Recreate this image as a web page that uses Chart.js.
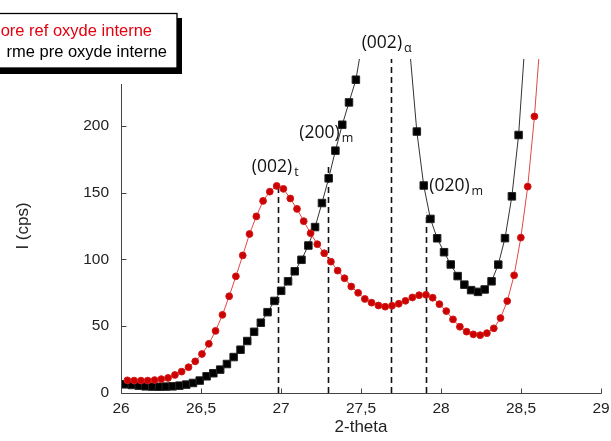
<!DOCTYPE html>
<html>
<head>
<meta charset="utf-8">
<script src="https://cdn.jsdelivr.net/npm/chart.js@4.4.1/dist/chart.umd.min.js"></script>
<style>
  html, body { margin: 0; padding: 0; background: #ffffff; }
  #wrap { width: 611px; height: 441px; }
</style>
</head>
<body>
<div id="wrap"><canvas id="xrd-chart" width="611" height="441"></canvas></div>
<script>
// reference pattern (red circles) : 2-theta / counts
const refTheta = [
  26.040, 26.082, 26.125, 26.167, 26.210, 26.252, 26.294, 26.337, 26.379, 26.422,
  26.464, 26.506, 26.549, 26.591, 26.634, 26.676, 26.718, 26.761, 26.803, 26.846,
  26.888, 26.930, 26.973, 27.015, 27.058, 27.100, 27.142, 27.185, 27.227, 27.270,
  27.312, 27.354, 27.397, 27.439, 27.482, 27.524, 27.566, 27.609, 27.651, 27.694,
  27.736, 27.778, 27.821, 27.863, 27.906, 27.948, 27.990, 28.033, 28.075, 28.118,
  28.160, 28.202, 28.245, 28.287, 28.330, 28.372, 28.414, 28.457, 28.499, 28.542,
  28.584, 28.626
];
const refCounts = [
  9.5, 9.3, 9.3, 9.3, 9.7, 10.4, 11.3, 13.5, 16.0, 19.3,
  23.7, 29.2, 36.8, 46.5, 58.5, 72.4, 87.3, 103.0, 119.0, 132.2,
  143.8, 150.7, 155.0, 152.8, 145.6, 137.8, 128.6, 119.6, 111.4, 104.6,
  98.3, 91.6, 85.9, 79.7, 75.0, 70.4, 67.6, 65.5, 64.6, 65.3,
  66.8, 69.0, 71.5, 73.2, 73.5, 71.3, 66.5, 61.3, 55.1, 49.6,
  45.9, 43.9, 43.3, 44.8, 48.4, 56.1, 68.8, 88.1, 116.3, 154.5,
  207.0, 274.0
];

// pre-oxidised pattern (black squares)
const preTheta = [
  26.026, 26.068, 26.111, 26.153, 26.196, 26.238, 26.280, 26.323, 26.365, 26.408,
  26.450, 26.492, 26.535, 26.577, 26.620, 26.662, 26.704, 26.747, 26.789, 26.832,
  26.874, 26.916, 26.959, 27.001, 27.044, 27.086, 27.128, 27.171, 27.213, 27.256,
  27.298, 27.340, 27.383, 27.425, 27.468, 27.510, 27.552, 27.595, 27.637, 27.680,
  27.722, 27.764, 27.807, 27.849, 27.892, 27.934, 27.976, 28.019, 28.061, 28.104,
  28.146, 28.188, 28.231, 28.273, 28.316, 28.358, 28.400, 28.443, 28.485, 28.528
];
const preCounts = [
  6.5, 6.0, 5.5, 5.0, 4.8, 4.7, 4.8, 5.0, 5.5, 6.3,
  7.5, 9.3, 12.5, 14.8, 17.5, 21.7, 26.9, 32.4, 38.9, 45.8,
  52.6, 60.5, 68.9, 76.5, 83.6, 91.1, 99.7, 110.4, 124.2, 142.2,
  160.7, 181.4, 200.8, 217.5, 234.5, 264, 300, 340, 370, 380,
  360, 310, 254, 195.7, 155.3, 130.3, 115.8, 105.4, 96.2, 87.5,
  81.1, 77.0, 75.7, 77.5, 83.6, 96.1, 115.9, 147.2, 193.1, 268
];

const xTickValues = [26, 26.5, 27, 27.5, 28, 28.5, 29];
const yTickValues = [0, 50, 100, 150, 200];

const legendLabels = ['ore ref oxyde interne', 'rme pre oxyde interne'];

// indexed peaks: reflection, phase, 2-theta, top of the dashed marker (cps)
const peakNames = ['(002)', '(200)', '(002)', '(020)'];
const peakPhases = ['t', 'm', 'α', 'm'];
const peakTheta = [26.98, 27.294, 27.6875, 27.906];
const peakTop = [153, 171.7, 250, 135];

// label placement relative to the top of each marker, px
const labelOffsets = [[-26, -17], [-28.7, -25.7], [-29.3, -10.7], [3.3, -21.3]];
const Y_AXIS_TOP = 231;

const toPoints = (xs, ys) => xs.map((x, i) => ({ x: x, y: ys[i] }));

const overlay = {
  id: 'overlay',
  beforeDatasetsDraw(chart) {
    const { ctx, scales: { x, y } } = chart;
    ctx.save();
    ctx.strokeStyle = '#111';
    ctx.lineWidth = 1.6;
    ctx.setLineDash([6, 4]);
    peakTheta.forEach((t, i) => {
      const px = Math.round(x.getPixelForValue(t)) + 0.5;
      ctx.beginPath();
      ctx.moveTo(px, y.getPixelForValue(0));
      ctx.lineTo(px, y.getPixelForValue(peakTop[i]));
      ctx.stroke();
    });
    ctx.restore();
  },
  afterDraw(chart) {
    const { ctx, scales: { x, y } } = chart;
    const area = chart.chartArea;
    ctx.save();

    // axes with inward ticks
    ctx.strokeStyle = '#444';
    ctx.lineWidth = 1;
    const by = Math.round(area.bottom) + 0.5;
    const lx = Math.round(area.left) + 0.5;
    ctx.beginPath();
    ctx.moveTo(lx, by);
    ctx.lineTo(Math.round(area.right) + 0.5, by);
    ctx.moveTo(lx, by);
    ctx.lineTo(lx, Math.round(y.getPixelForValue(Y_AXIS_TOP)));
    xTickValues.forEach(v => {
      const px = Math.round(x.getPixelForValue(v)) + 0.5;
      ctx.moveTo(px, by);
      ctx.lineTo(px, by - 5);
    });
    yTickValues.forEach(v => {
      const py = Math.round(y.getPixelForValue(v)) + 0.5;
      ctx.moveTo(lx, py);
      ctx.lineTo(lx + 5, py);
    });
    ctx.stroke();

    // peak labels
    ctx.fillStyle = '#111';
    ctx.textBaseline = 'alphabetic';
    ctx.textAlign = 'left';
    peakNames.forEach((name, i) => {
      const px = x.getPixelForValue(peakTheta[i]) + labelOffsets[i][0];
      const py = y.getPixelForValue(peakTop[i]) + labelOffsets[i][1];
      ctx.font = '17.5px "Open Sans"';
      ctx.fillText(name, px, py);
      const w = ctx.measureText(name).width;
      ctx.font = '12.5px "Open Sans"';
      ctx.fillText(peakPhases[i], px + w + 2, py + 4);
    });

    // legend box, cut by the left edge
    ctx.fillStyle = '#000';
    ctx.fillRect(-10, 18, 192, 56);
    ctx.fillStyle = '#fff';
    ctx.fillRect(-10, 13, 187, 55);
    ctx.strokeStyle = '#000';
    ctx.lineWidth = 1.3;
    ctx.strokeRect(-10, 13.5, 187, 54.5);
    ctx.font = '16.5px "Liberation Sans", Arial, sans-serif';
    ctx.textAlign = 'right';
    ctx.fillStyle = '#e3000f';
    ctx.fillText(legendLabels[0], 152, 36);
    ctx.fillStyle = '#000';
    ctx.fillText(legendLabels[1], 167, 56.5);
    ctx.restore();
  }
};

Chart.defaults.font.family = '"Liberation Sans", Arial, sans-serif';
Chart.defaults.color = '#222';

new Chart(document.getElementById('xrd-chart'), {
  type: 'line',
  data: {
    datasets: [
      {
        label: legendLabels[0],
        data: toPoints(refTheta, refCounts),
        borderColor: '#e04848',
        borderWidth: 1,
        pointStyle: 'circle',
        pointRadius: 3.4,
        pointBackgroundColor: '#cc0000',
        pointBorderColor: '#d21a1a',
        pointBorderWidth: 1,
        tension: 0,
        clip: 0
      },
      {
        label: legendLabels[1],
        data: toPoints(preTheta, preCounts),
        borderColor: '#333',
        borderWidth: 1,
        pointStyle: 'rect',
        pointRadius: 5.3,
        pointBackgroundColor: '#000',
        pointBorderColor: '#222',
        pointBorderWidth: 1,
        tension: 0,
        clip: 0
      }
    ]
  },
  options: {
    responsive: false,
    animation: false,
    events: [],
    layout: { padding: { top: 59, right: 10, left: 0, bottom: 0 } },
    plugins: {
      legend: { display: false },
      tooltip: { enabled: false }
    },
    scales: {
      x: {
        type: 'linear',
        min: 26,
        max: 29,
        afterFit: s => { s.height = 48; s.paddingLeft = 0; s.paddingRight = 0; },
        afterBuildTicks: s => { s.ticks = xTickValues.map(v => ({ value: v })); },
        grid: { display: false, drawTicks: false },
        border: { display: false },
        ticks: {
          padding: 6,
          font: { size: 15.5 },
          maxRotation: 0,
          callback: v => String(v).replace('.', ',')
        },
        title: {
          display: true,
          text: '2-theta',
          font: { size: 17 },
          padding: { top: 0, bottom: 3 }
        }
      },
      y: {
        min: 0,
        max: 250,
        afterFit: s => { s.width = 121; s.paddingTop = 0; s.paddingBottom = 0; },
        afterBuildTicks: s => { s.ticks = yTickValues.map(v => ({ value: v })); },
        grid: { display: false, drawTicks: false },
        border: { display: false },
        ticks: { padding: 12, font: { size: 15.5 } },
        title: {
          display: true,
          text: 'I (cps)',
          font: { size: 17 },
          padding: { top: 13, bottom: 0 }
        }
      }
    }
  },
  plugins: [overlay]
});
</script>
</body>
</html>
